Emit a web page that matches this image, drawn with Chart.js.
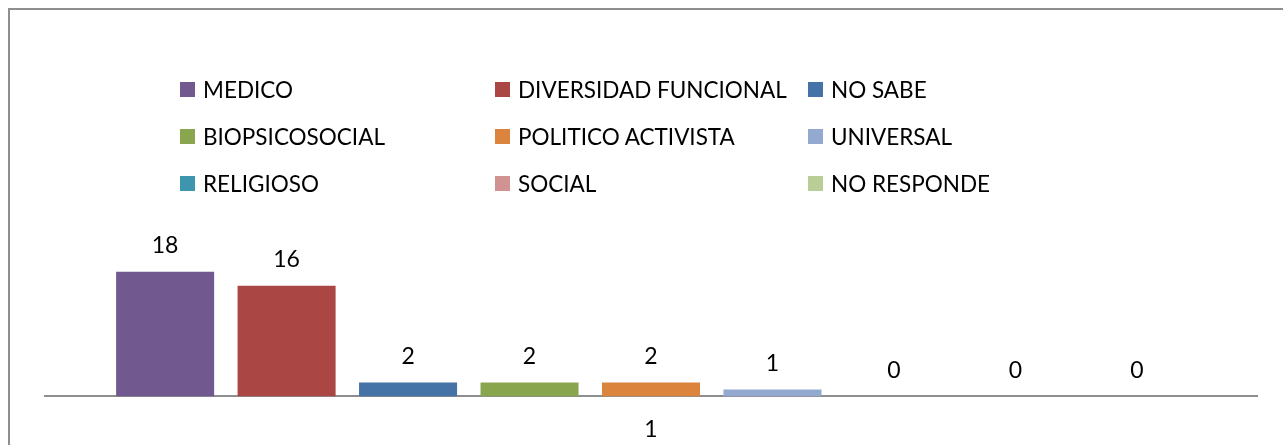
<!DOCTYPE html>
<html>
<head>
<meta charset="utf-8">
<script src="https://cdn.jsdelivr.net/npm/chart.js@4.4.1/dist/chart.umd.min.js"></script>
<style>
    body { margin: 0; background: #fff; }
    #wrap { position: relative; width: 1283px; height: 445px; overflow: hidden; font-family: Lato, sans-serif; }
    #frame { position: absolute; left: 8px; top: 8px; right: -10px; bottom: -10px; border-top: 2px solid #8e8e8e; border-left: 2px solid #8e8e8e; }
    #chart { position: absolute; left: 0; top: 0; }
    #legend { position: absolute; left: 180px; top: 77px; display: grid; grid-template-columns: 315px 313px 300px; grid-auto-rows: 47px; }
    .item { display: flex; align-items: center; height: 25px; font-size: 22.5px; color: #000; white-space: nowrap; }
    .box { width: 15px; height: 15px; margin-right: 8px; flex: none; }
</style>
</head>
<body>
<div id="wrap">
    <div id="frame"></div>
    <canvas id="chart" width="1283" height="462"></canvas>
    <div id="legend"></div>
</div>
<script>
var categories = ["1"]
var series_names = ["MEDICO", "DIVERSIDAD FUNCIONAL", "NO SABE", "BIOPSICOSOCIAL", "POLITICO ACTIVISTA", "UNIVERSAL", "RELIGIOSO", "SOCIAL", "NO RESPONDE"]
var series_values = [18, 16, 2, 2, 2, 1, 0, 0, 0]
var palette = ["#71588f", "#aa4643", "#4572a7", "#89a54e", "#db843d", "#93a9cf", "#3d96ae", "#d19392", "#b9cd96"]

var font_family = "Lato, sans-serif"

function configureDatasets() {
    return series_names.map((name, index) => {
        return {
            "label": name,
            "data": [series_values[index]],
            "backgroundColor": palette[index],
            "borderWidth": 0,
            "categoryPercentage": 0.902,
            "barPercentage": 0.807
        }
    })
}

// value written above each bar
var valueLabels = {
    "id": "valueLabels",
    afterDatasetsDraw(chart) {
        let ctx = chart.ctx
        ctx.save()
        ctx.font = "23px " + font_family
        ctx.fillStyle = "#000"
        ctx.textAlign = "center"
        ctx.textBaseline = "middle"
        chart.data.datasets.forEach((dataset, i) => {
            chart.getDatasetMeta(i).data.forEach((bar, j) => {
                ctx.fillText(String(dataset.data[j]), bar.x, bar.y - 26)
            })
        })
        ctx.restore()
    }
}

function buildLegend(chart) {
    let legend = document.getElementById("legend")
    chart.data.datasets.forEach((dataset) => {
        let item = document.createElement("div")
        item.className = "item"
        let box = document.createElement("span")
        box.className = "box"
        box.style.background = dataset.backgroundColor
        let text = document.createElement("span")
        text.textContent = dataset.label
        item.appendChild(box)
        item.appendChild(text)
        legend.appendChild(item)
    })
}

var chart = new Chart(document.getElementById("chart").getContext("2d"), {
    "type": "bar",
    "data": {
        "labels": categories,
        "datasets": configureDatasets()
    },
    "options": {
        "responsive": false,
        "animation": false,
        "layout": {
            "padding": { "left": 45, "right": 26, "top": 258, "bottom": 0 }
        },
        "plugins": {
            "legend": { "display": false },
            "tooltip": { "enabled": false }
        },
        "scales": {
            "x": {
                "grid": { "display": false, "drawTicks": false },
                "border": { "display": true, "color": "#8e8e8e", "width": 2 },
                "ticks": {
                    "color": "#000",
                    "padding": 19,
                    "font": { "family": font_family, "size": 23 }
                }
            },
            "y": {
                "display": false,
                "min": 0,
                "max": 20
            }
        }
    },
    "plugins": [valueLabels]
})

buildLegend(chart)
</script>
</body>
</html>
